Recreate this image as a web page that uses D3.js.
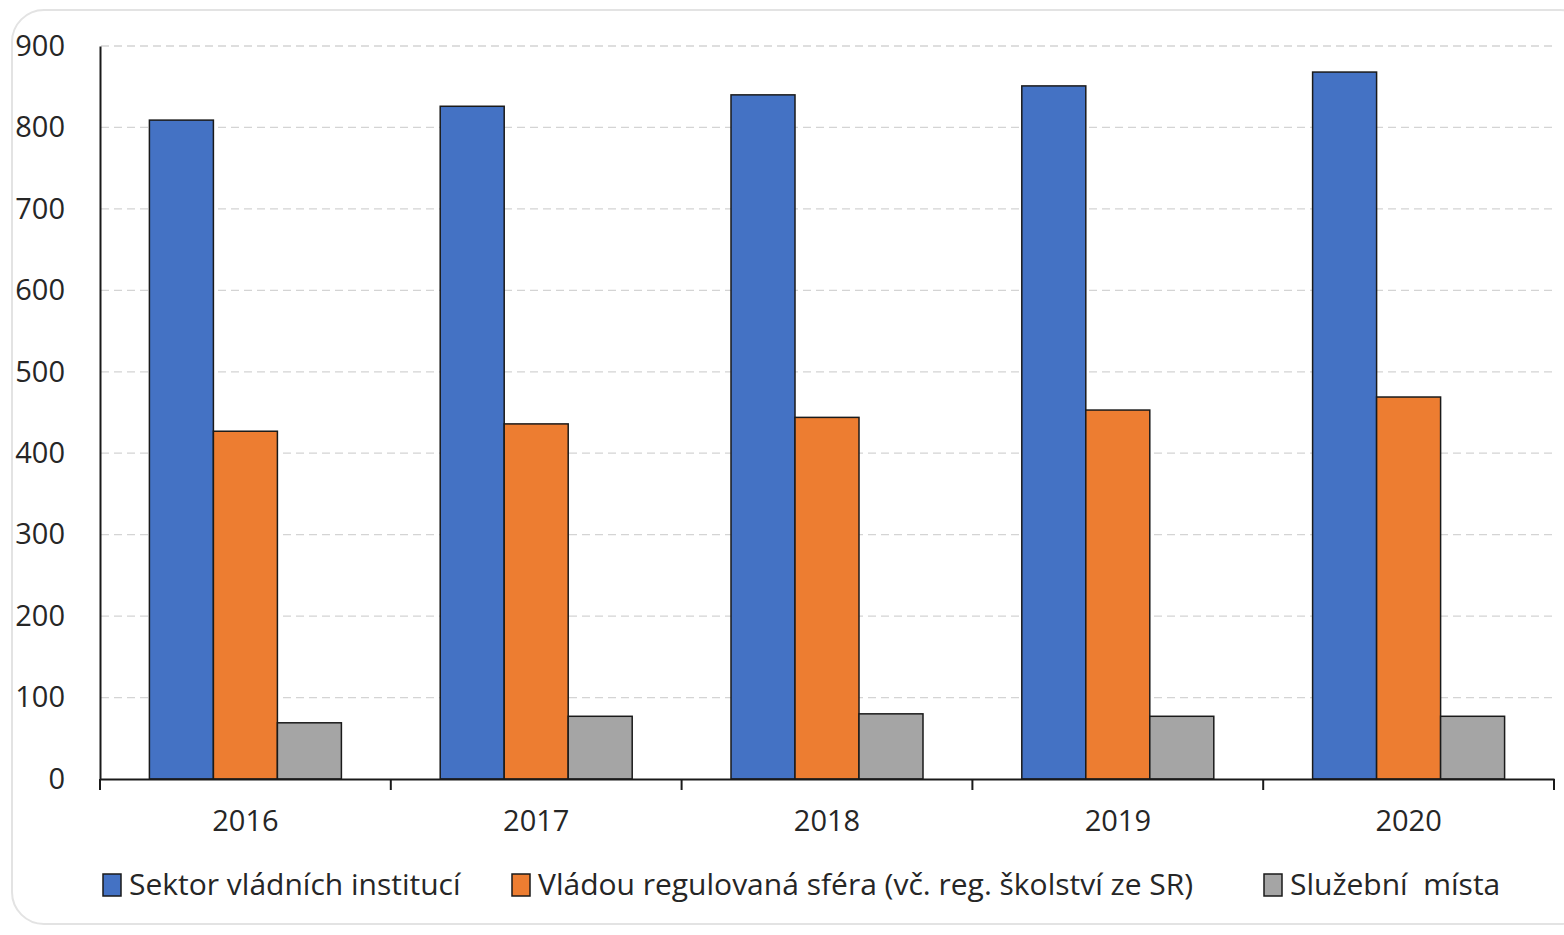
<!DOCTYPE html>
<html>
<head>
<meta charset="utf-8">
<script src="https://cdn.jsdelivr.net/npm/d3@7"></script>
<style>
  html, body { margin: 0; padding: 0; background: #ffffff; }
  svg { display: block; }
  text { font-family: "Open Sans", "Noto Sans", sans-serif; fill: #262626; }
</style>
</head>
<body>
<svg id="chart" width="1564" height="935"></svg>
<script>
const years = ["2016", "2017", "2018", "2019", "2020"];
const seriesNames = [
  "Sektor vládních institucí",
  "Vládou regulovaná sféra (vč. reg. školství ze SR)",
  "Služební  místa"
];
const sektorValues = [809, 826, 840, 851, 868];
const regulovanaValues = [427, 436, 444, 453, 469];
const sluzebniValues = [69, 77, 80, 77, 77];
const yTicks = [0, 100, 200, 300, 400, 500, 600, 700, 800, 900];
const colors = ["#4472c4", "#ed7d31", "#a5a5a5"];

const seriesValues = [sektorValues, regulovanaValues, sluzebniValues];

const svg = d3.select("#chart");

// rounded frame
svg.append("rect")
  .attr("x", 12).attr("y", 10)
  .attr("width", 1580).attr("height", 914)
  .attr("rx", 32).attr("ry", 32)
  .attr("fill", "#ffffff")
  .attr("stroke", "#e3e3e3").attr("stroke-width", 2);

const plotLeft = 100, plotRight = 1554, plotTop = 46, plotBottom = 779;

const x = d3.scaleBand().domain(years).range([plotLeft, plotRight]).paddingInner(0).paddingOuter(0);
const y = d3.scaleLinear().domain([0, 900]).range([plotBottom, plotTop]);
const barW = 64;

// gridlines
svg.append("g")
  .selectAll("line")
  .data(yTicks.filter(d => d > 0))
  .join("line")
  .attr("x1", plotLeft + 1).attr("x2", plotRight)
  .attr("y1", d => y(d)).attr("y2", d => y(d))
  .attr("stroke", "#d4d4d4").attr("stroke-width", 1.3)
  .attr("stroke-dasharray", "8,5");

// bars
years.forEach((yr, i) => {
  const cx = x(yr) + x.bandwidth() / 2;
  seriesValues.forEach((vals, s) => {
    svg.append("rect")
      .attr("x", cx - 1.5 * barW + s * barW)
      .attr("y", y(vals[i]))
      .attr("width", barW)
      .attr("height", y(0) - y(vals[i]))
      .attr("fill", colors[s])
      .attr("stroke", "#1a1a1a").attr("stroke-width", 1.5);
  });
});

// y axis
const yAxis = svg.append("g").attr("transform", `translate(${plotLeft},0)`)
  .call(d3.axisLeft(y).tickValues(yTicks).tickSize(0).tickPadding(35));
yAxis.select(".domain").attr("stroke", "#1a1a1a").attr("stroke-width", 2);
yAxis.selectAll("text").attr("font-size", 29).style("fill", "#262626")
  .attr("font-family", "\"Open Sans\", sans-serif");

// x axis
const xAxis = svg.append("g").attr("transform", `translate(0,${plotBottom})`)
  .call(d3.axisBottom(x).tickSize(0).tickPadding(31));
xAxis.select(".domain").attr("stroke", "#1a1a1a").attr("stroke-width", 2);
xAxis.selectAll("text").attr("font-size", 29).style("fill", "#262626")
  .attr("font-family", "\"Open Sans\", sans-serif");
// category separators
svg.append("g").selectAll("line")
  .data(years.map(d => x(d)).concat([plotRight]))
  .join("line")
  .attr("x1", d => d).attr("x2", d => d)
  .attr("y1", plotBottom).attr("y2", plotBottom + 11)
  .attr("stroke", "#1a1a1a").attr("stroke-width", 2);

// legend
const legendX = [103, 512, 1264];
const legend = svg.append("g");
seriesNames.forEach((name, s) => {
  legend.append("rect")
    .attr("x", legendX[s]).attr("y", 874)
    .attr("width", 18).attr("height", 22)
    .attr("fill", colors[s])
    .attr("stroke", "#1a1a1a").attr("stroke-width", 1.5);
  legend.append("text")
    .attr("x", legendX[s] + 26).attr("y", 884)
    .attr("dy", "0.35em")
    .attr("font-size", 30)
    .style("white-space", "pre")
    .attr("xml:space", "preserve")
    .text(name);
});
</script>
</body>
</html>
